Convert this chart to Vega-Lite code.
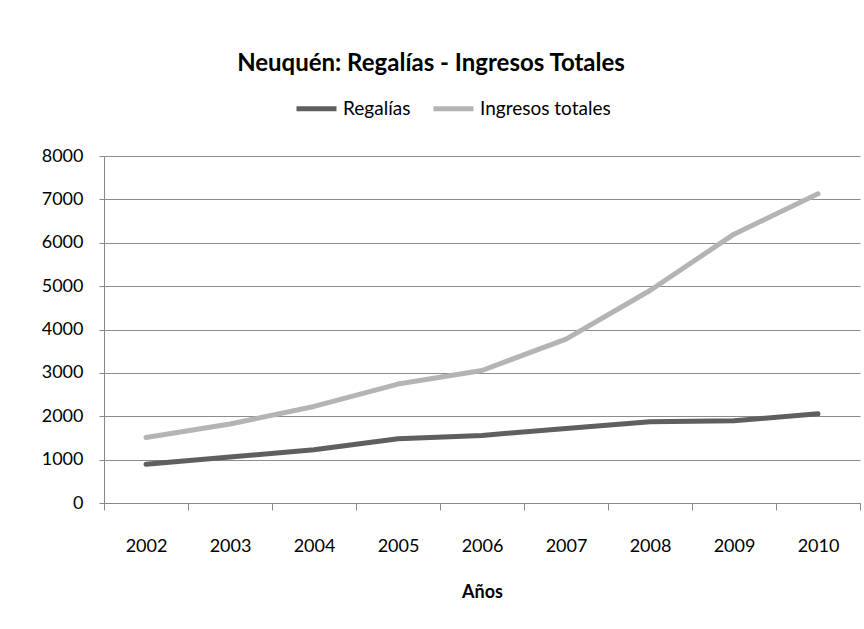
{
  "$schema": "https://vega.github.io/schema/vega-lite/v6.json",
  "autosize": "none",
  "width": 756,
  "height": 347,
  "padding": {"left": 104, "top": 156, "right": 4, "bottom": 126},
  "background": "white",
  "title": {
    "text": "Neuquén: Regalías - Ingresos Totales",
    "font": "Lato",
    "fontSize": 24,
    "fontWeight": "bold",
    "color": "#000000",
    "anchor": "middle",
    "offset": 10,
    "dx": -51
  },
  "config": {
    "view": {"stroke": null},
    "font": "Lato"
  },
  "data": {
    "values": [
      {"year": "2002", "serie": "Regalías", "value": 895},
      {"year": "2003", "serie": "Regalías", "value": 1060},
      {"year": "2004", "serie": "Regalías", "value": 1228},
      {"year": "2005", "serie": "Regalías", "value": 1482},
      {"year": "2006", "serie": "Regalías", "value": 1558},
      {"year": "2007", "serie": "Regalías", "value": 1720},
      {"year": "2008", "serie": "Regalías", "value": 1873},
      {"year": "2009", "serie": "Regalías", "value": 1896},
      {"year": "2010", "serie": "Regalías", "value": 2058},
      {"year": "2002", "serie": "Ingresos totales", "value": 1510},
      {"year": "2003", "serie": "Ingresos totales", "value": 1820},
      {"year": "2004", "serie": "Ingresos totales", "value": 2226},
      {"year": "2005", "serie": "Ingresos totales", "value": 2742},
      {"year": "2006", "serie": "Ingresos totales", "value": 3055},
      {"year": "2007", "serie": "Ingresos totales", "value": 3779},
      {"year": "2008", "serie": "Ingresos totales", "value": 4900},
      {"year": "2009", "serie": "Ingresos totales", "value": 6198},
      {"year": "2010", "serie": "Ingresos totales", "value": 7127}
    ]
  },
  "mark": {"type": "line", "strokeWidth": 5, "strokeCap": "round", "strokeJoin": "round"},
  "encoding": {
    "x": {
      "field": "year",
      "type": "ordinal",
      "bandPosition": 0.5,
      "scale": {"type": "band", "paddingInner": 0, "paddingOuter": 0},
      "axis": {
        "title": "Años",
        "titleFont": "Lato",
        "titleFontSize": 18,
        "titleFontWeight": "bold",
        "titleColor": "#000000",
        "titlePadding": 28,
        "labelAngle": 0,
        "labelFont": "Lato",
        "labelFontSize": 18,
        "labelColor": "#000000",
        "labelPadding": 27,
        "tickBand": "extent",
        "tickSize": 7,
        "tickColor": "#888888",
        "domainColor": "#888888",
        "grid": false
      }
    },
    "y": {
      "field": "value",
      "type": "quantitative",
      "scale": {"domain": [0, 8000], "nice": false},
      "axis": {
        "title": null,
        "values": [0, 1000, 2000, 3000, 4000, 5000, 6000, 7000, 8000],
        "format": "d",
        "labelFont": "Lato",
        "labelFontSize": 18,
        "labelColor": "#000000",
        "labelPadding": 16,
        "tickSize": 5,
        "tickColor": "#888888",
        "domainColor": "#888888",
        "grid": true,
        "gridColor": "#8c8c8c",
        "gridWidth": 1
      }
    },
    "color": {
      "field": "serie",
      "type": "nominal",
      "scale": {"domain": ["Regalías", "Ingresos totales"], "range": ["#5f5f5f", "#b4b4b4"]},
      "legend": {
        "title": null,
        "orient": "none",
        "direction": "horizontal",
        "legendX": 190,
        "legendY": -70,
        "symbolType": "stroke",
        "symbolSize": 1600,
        "symbolStrokeWidth": 5,
        "labelFont": "Lato",
        "labelFontSize": 19,
        "labelColor": "#000000",
        "labelOffset": 4,
        "columnPadding": 12
      }
    }
  }
}
